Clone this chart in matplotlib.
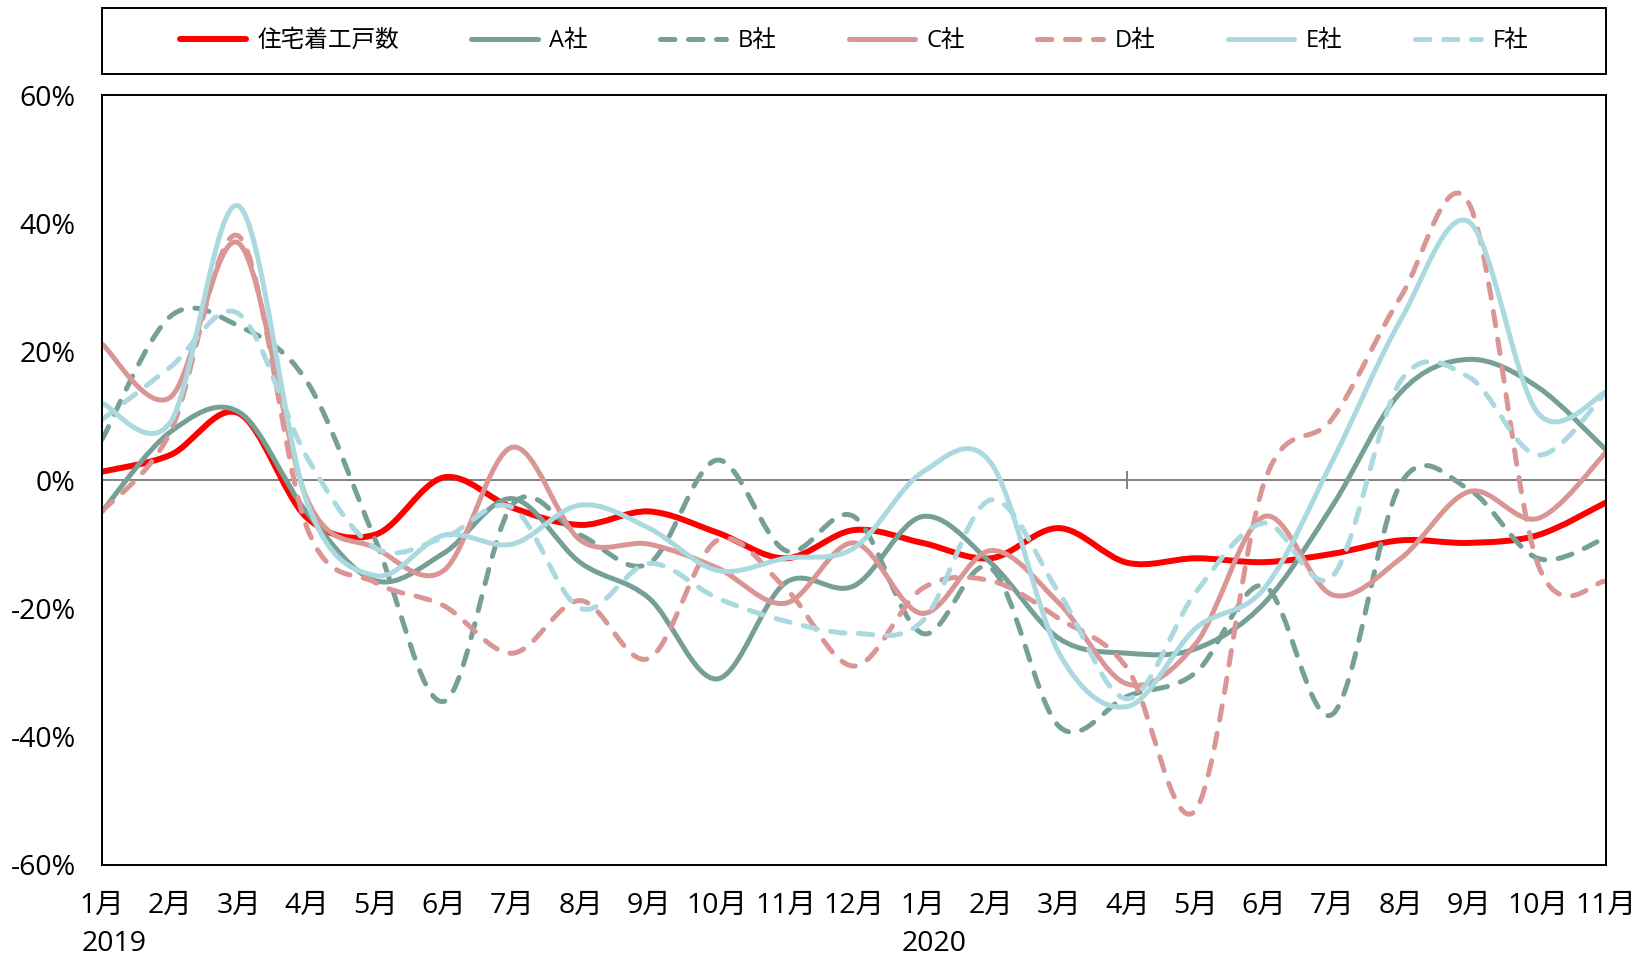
import numpy as np
import matplotlib
matplotlib.use('Agg')
import matplotlib.pyplot as plt
from matplotlib.path import Path
from matplotlib.patches import PathPatch, Rectangle
from matplotlib.lines import Line2D

plt.rcParams['font.family'] = ['Open Sans', 'Noto Sans CJK JP', 'DejaVu Sans']

# 月ラベル（2019年1月〜2020年11月）
months = ['1月', '2月', '3月', '4月', '5月', '6月', '7月', '8月', '9月', '10月', '11月', '12月',
          '1月', '2月', '3月', '4月', '5月', '6月', '7月', '8月', '9月', '10月', '11月']
years = ['2019', '2020']
year_start = [0, 12]

# 前年同月比（%）
housing = [1.3, 3.9, 10.4, -5.9, -8.5, 0.4, -4.3, -7.0, -4.9, -8.2, -12.2, -7.8,
           -9.8, -12.2, -7.5, -12.9, -12.2, -12.8, -11.5, -9.4, -9.8, -8.6, -3.5]
comp_a = [-4.9, 7.5, 10.6, -5.1, -15.7, -11.4, -2.9, -12.9, -18.4, -31.0, -16.0, -16.5,
          -5.7, -12.9, -24.7, -27.0, -26.3, -19.2, -4.0, 13.7, 18.8, 14.5, 4.7]
comp_b = [6.3, 25.5, 24.0, 15.3, -9.4, -34.5, -3.9, -8.6, -13.0, 3.1, -11.0, -5.7,
          -23.9, -13.7, -38.4, -33.7, -30.0, -16.5, -36.5, -0.5, -1.5, -12.2, -9.0]
comp_c = [21.2, 12.9, 36.9, -3.0, -10.6, -14.1, 5.1, -9.4, -10.0, -13.7, -19.2, -9.8,
          -20.8, -11.0, -19.2, -31.8, -25.5, -5.7, -17.9, -12.2, -1.8, -6.0, 4.3]
comp_d = [-4.9, 7.5, 38.0, -7.5, -16.0, -19.6, -27.0, -18.8, -27.8, -9.4, -16.9, -29.0,
          -16.9, -15.7, -21.6, -29.4, -51.4, -0.4, 9.6, 28.6, 43.0, -13.0, -15.8]
comp_e = [12.0, 9.0, 42.7, -3.5, -14.9, -8.6, -10.0, -3.9, -7.5, -14.1, -12.2, -10.6,
          1.2, 2.7, -27.0, -35.3, -23.1, -16.9, 3.0, 25.0, 40.2, 10.5, 13.7]
comp_f = [9.4, 17.6, 25.9, 3.5, -10.6, -9.0, -4.3, -20.0, -13.0, -18.4, -22.0, -23.9,
          -22.0, -3.1, -17.6, -34.1, -17.5, -6.7, -15.0, 15.5, 16.0, 3.9, 13.7]

names = ['住宅着工戸数', 'A社', 'B社', 'C社', 'D社', 'E社', 'F社']
series = [housing, comp_a, comp_b, comp_c, comp_d, comp_e, comp_f]

GREEN = '#76a095'
PINK = '#d99694'
BLUE = '#abd9e0'
colors = ['#ff0000', GREEN, GREEN, PINK, PINK, BLUE, BLUE]
dashed = [False, False, True, False, True, False, True]
widths = [4.3, 3.6, 3.6, 3.6, 3.6, 3.6, 3.6]
DASH = (0, (2.9, 2.7))


def smooth_path(xs, ys):
    # Excel風のスムージング（ベジェ曲線の制御点）
    pts = np.column_stack([xs, ys]).astype(float)
    n = len(pts)
    verts = [pts[0]]
    codes = [Path.MOVETO]
    for i in range(n - 1):
        p0 = pts[max(i - 1, 0)]
        p1 = pts[i]
        p2 = pts[i + 1]
        p3 = pts[min(i + 2, n - 1)]
        verts += [p1 + (p2 - p0) / 6, p2 - (p3 - p1) / 6, p2]
        codes += [Path.CURVE4] * 3
    return Path(verts, codes)


fig = plt.figure(figsize=(16.48, 9.63), dpi=100)
ax = fig.add_axes([0.0619, 0.1018, 0.9126, 0.7995])

x = np.arange(len(months))
handles = []
for ys, name, c, d, lw in zip(series, names, colors, dashed, widths):
    ls = DASH if d else '-'
    patch = PathPatch(smooth_path(x, ys), fill=False, edgecolor=c, linewidth=lw,
                      linestyle=ls, capstyle='round', joinstyle='round')
    ax.add_patch(patch)
    handles.append(Line2D([], [], color=c, linewidth=lw, linestyle=ls,
                          dash_capstyle='round', solid_capstyle='round'))

ax.axhline(0, color='#808080', linewidth=1.4, zorder=0)
ax.plot([15, 15], [-1.2, 1.2], color='#808080', linewidth=1.4, zorder=0)

ax.set_xlim(0, len(months) - 1)
ax.set_ylim(-60, 60)
ax.set_yticks(range(-60, 61, 20))
ax.set_yticklabels(['%d%%' % v for v in range(-60, 61, 20)])
ax.set_xticks(x)
ax.set_xticklabels(months)
ax.tick_params(axis='both', length=0, labelsize=20.5)
ax.tick_params(axis='x', pad=19)
ax.tick_params(axis='y', pad=19)
for s in ax.spines.values():
    s.set_linewidth(1.4)
    s.set_color('black')

for yr, pos in zip(years, year_start):
    ax.text(pos + 0.17, -0.103, yr, transform=ax.get_xaxis_transform(),
            ha='center', va='center', fontsize=20.5)

# 凡例の枠
fig.patches.append(Rectangle((0.0619, 0.9232), 0.9126, 0.0685, transform=fig.transFigure,
                             fill=False, edgecolor='black', linewidth=1.4))
fig.legend(handles, names, loc='center', ncol=7, bbox_to_anchor=(0.5182, 0.9574),
           fontsize=17, handlelength=2.8, handletextpad=0.5, columnspacing=3.05,
           frameon=False, borderaxespad=0)

plt.savefig('out.png', dpi=100)
